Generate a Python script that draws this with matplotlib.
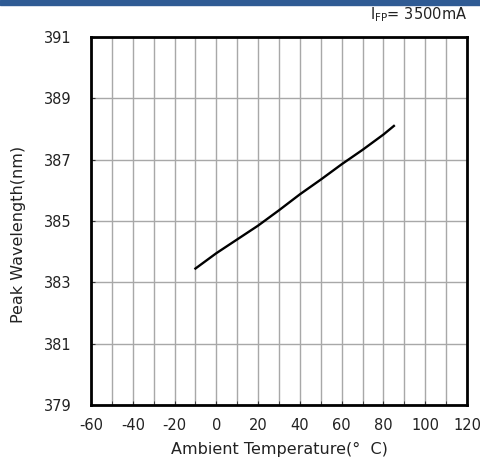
import matplotlib.pyplot as plt
import matplotlib.patches as patches

plt.rcParams['axes.unicode_minus'] = False

# peak wavelength vs ambient temperature at I_FP = 3500mA
temp = [-10, 0, 10, 20, 30, 40, 50, 60, 70, 80, 85]
wavelength = [383.45, 383.95, 384.4, 384.85, 385.35, 385.87, 386.35, 386.85, 387.32, 387.82, 388.1]

xticks = list(range(-60, 121, 20))
yticks = list(range(379, 392, 2))

fig = plt.figure(figsize=(4.81, 4.61), dpi=100)
ax = fig.add_axes([91 / 481, 1 - 405 / 461, 376 / 481, 368 / 461])

# header band
fig.patches.append(patches.Rectangle((0, 1 - 5 / 461), 1, 5 / 461, transform=fig.transFigure,
                                     color='#2f5b94', zorder=0))

ax.plot(temp, wavelength, color='black', lw=1.7, zorder=3)

ax.set_xlim(-60, 120)
ax.set_ylim(379, 391)
ax.set_xticks(xticks)
ax.set_xticks(range(-60, 121, 10), minor=True)
ax.set_yticks(yticks)
ax.grid(True, which='both', color='#a8a8a8', lw=1)
ax.tick_params(which='both', direction='in', length=3, labelsize=10.5, color='#333333',
               labelcolor='#222222')
ax.tick_params(axis='x', pad=9)
ax.tick_params(axis='y', pad=14)
for s in ax.spines.values():
    s.set_linewidth(2)

fig.text(279 / 481, 1 - 449 / 461, 'Ambient Temperature(°  C)', ha='center', va='center',
         fontsize=11.5, color='#222222')
fig.text(19 / 481, 1 - 234 / 461, 'Peak Wavelength(nm)', ha='center', va='center',
         rotation=90, fontsize=11.5, color='#222222')

fig.text(467 / 481, 1 - 15 / 461, r'I$_{\mathrm{FP}}$= 3500mA', ha='right', va='center',
         fontsize=10.5, color='#222222')

fig.savefig('out.png', dpi=100)
